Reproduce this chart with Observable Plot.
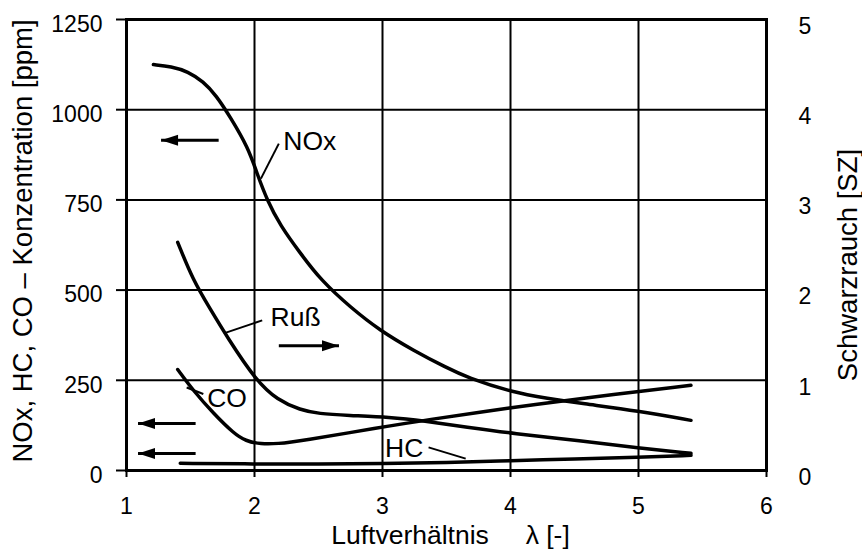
<!DOCTYPE html>
<html><head><meta charset="utf-8">
<script src="https://cdn.jsdelivr.net/npm/d3@7"></script>
<script src="https://cdn.jsdelivr.net/npm/@observablehq/plot@0.6"></script>
<style>body{margin:0;background:#fff}</style>
</head><body><div id="chart"></div>
<script>
// ---- axes ----
const xTicks = [1, 2, 3, 4, 5, 6];
const yTicks = [0, 250, 500, 750, 1000, 1250];
const rightTickLabels = ["0", "1", "2", "3", "4", "5"];
const ppmPerSZ = 250; // right axis: 1 SZ == 250 ppm on left axis
const xTitle = "Luftverhältnis\u00a0\u00a0\u00a0\u00a0 λ [-]";
const yTitleLeft = "NOx, HC, CO – Konzentration [ppm]";
const yTitleRight = "Schwarzrauch [SZ]";

// ---- series (λ, value) ----
const noxLambda = [1.21, 1.35, 1.48, 1.60, 1.70, 1.81, 1.95, 2.02, 2.10, 2.20, 2.36, 2.52, 2.75, 2.98, 3.24, 3.50, 3.66, 4.02, 4.29, 4.55, 5.00, 5.41];
const noxPpm    = [1125, 1120, 1106, 1078, 1040, 980, 895, 823, 748, 680, 601, 527, 452, 388, 333, 285, 258, 216, 200, 186, 165, 139];

const russLambda = [1.40, 1.52, 1.65, 1.79, 2.01, 2.18, 2.36, 2.50, 2.73, 3.06, 3.32, 3.66, 4.02, 4.55, 5.00, 5.41];
const russSZ     = [2.53, 2.11, 1.80, 1.47, 1.00, 0.78, 0.67, 0.63, 0.61, 0.59, 0.55, 0.48, 0.41, 0.33, 0.25, 0.19];

const coLambda = [1.40, 1.52, 1.68, 1.84, 1.93, 2.05, 2.18, 2.36, 2.98, 3.32, 4.02, 4.55, 5.41];
const coPpm    = [280, 222, 158, 102, 82, 73, 74, 82, 119, 139, 175, 200, 236];

const hcLambda = [1.42, 2.0, 2.5, 3.0, 3.5, 4.0, 4.5, 5.0, 5.41];
const hcPpm    = [20, 18, 18, 19, 22, 27, 32, 37, 42];

// ---- annotations ----
const labelText = ["NOx", "Ruß", "CO", "HC"];
const labelLambda = [2.225, 2.125, 1.63, 3.02];
const labelPpm = [912, 424, 200, 61];

const leaderX1 = [2.19, 2.06, 1.47, 3.36];
const leaderY1 = [906, 416, 230, 64];
const leaderX2 = [2.05, 1.76, 1.60, 3.65];
const leaderY2 = [809, 380, 212, 33];

// arrows: tail -> tip
const arrowTailX = [1.72, 2.19, 1.54, 1.54];
const arrowTipX  = [1.27, 2.66, 1.09, 1.09];
const arrowY     = [915, 346, 130, 47];

// ---- build tables ----
const rows = [];
function addSeries(name, xs, ys, factor) {
  xs.forEach((x, i) => rows.push({series: name, x, y: ys[i] * factor}));
}
addSeries("NOx", noxLambda, noxPpm, 1);
addSeries("Ruß", russLambda, russSZ, ppmPerSZ);
addSeries("CO", coLambda, coPpm, 1);
addSeries("HC", hcLambda, hcPpm, 1);

const labels = labelText.map((t, i) => ({t, x: labelLambda[i], y: labelPpm[i]}));
const leaders = leaderX1.map((x, i) => ({x1: x, y1: leaderY1[i], x2: leaderX2[i], y2: leaderY2[i]}));
const arrows = arrowTailX.map((x, i) => ({x1: x, x2: arrowTipX[i], y: arrowY[i], dir: arrowTipX[i] > x ? 90 : -90}));

const font = "'Liberation Sans', Arial, Helvetica, sans-serif";

const chart = Plot.plot({
  width: 862,
  height: 557,
  marginLeft: 126,
  marginRight: 96,
  marginTop: 19,
  marginBottom: 87,
  x: {domain: [1, 6]},
  y: {domain: [0, 1250]},
  style: {fontFamily: font, fontSize: "23px", color: "black", background: "white", overflow: "visible"},
  marks: [
    Plot.gridX([2, 3, 4, 5], {stroke: "black", strokeOpacity: 1, strokeWidth: 2}),
    Plot.gridY([250, 500, 750, 1000], {stroke: "black", strokeOpacity: 1, strokeWidth: 2}),
    // tick marks
    Plot.axisX(xTicks, {tickSize: 7, strokeWidth: 2, tickFormat: () => "", label: null}),
    Plot.axisY(yTicks, {tickSize: 10, strokeWidth: 2, tickFormat: () => "", label: null}),
    // tick labels
    Plot.axisX(xTicks, {tickSize: 0, tickPadding: 27, fontSize: 23, tickFormat: d => String(d), label: null}),
    Plot.axisY(yTicks, {anchor: "left", tickSize: 0, tickPadding: 24, fontSize: 23, dy: 5, tickFormat: d => String(d), label: null}),
    Plot.axisY(yTicks, {anchor: "right", tickSize: 0, tickPadding: 32, fontSize: 23, dy: 7, textAnchor: "start",
      tickFormat: d => rightTickLabels[yTicks.indexOf(d)], label: null}),
    Plot.frame({stroke: "black", strokeWidth: 3}),
    // curves
    Plot.line(rows, {x: "x", y: "y", z: "series", curve: "basis", stroke: "black", strokeWidth: 3.5}),
    // leaders
    Plot.link(leaders, {x1: "x1", y1: "y1", x2: "x2", y2: "y2", stroke: "black", strokeWidth: 2}),
    // arrows
    Plot.link(arrows, {x1: "x1", x2: "x2", y1: "y", y2: "y", stroke: "black", strokeWidth: 3}),
    Plot.vector(arrows, {x: "x2", y: "y", rotate: "dir", length: 17, r: 5.5, shape: "spike", anchor: "end", fill: "black", stroke: "none"}),
    // curve labels
    Plot.text(labels, {x: "x", y: "y", text: "t", textAnchor: "start", fontSize: 26.5, fill: "black"}),
    // axis titles
    Plot.text([xTitle], {frameAnchor: "bottom", text: d => d, textAnchor: "middle", lineAnchor: "middle", dy: 65, dx: 4, fontSize: 26.5, fill: "black"}),
    Plot.text([yTitleLeft], {frameAnchor: "left", text: d => d, textAnchor: "middle", lineAnchor: "middle", dx: -103, dy: -4, rotate: -90, fontSize: 27.5, fill: "black"}),
    Plot.text([yTitleRight], {frameAnchor: "right", text: d => d, textAnchor: "middle", lineAnchor: "middle", dx: 82, dy: 20, rotate: -90, fontSize: 27.5, fill: "black"})
  ]
});
document.getElementById("chart").appendChild(chart);
</script>
</body></html>
